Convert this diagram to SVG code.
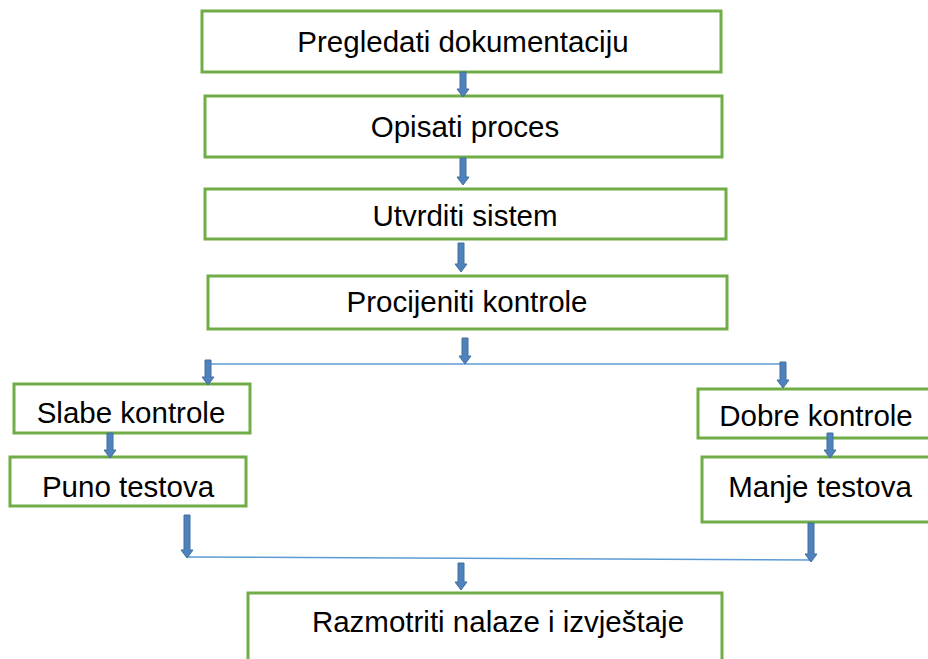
<svg xmlns="http://www.w3.org/2000/svg" width="928" height="659" viewBox="0 0 928 659">
<style>
.box{fill:#fff;stroke:#70ad47;stroke-width:3}
.t{font-family:"Liberation Sans",Arial,sans-serif;font-size:29.5px;fill:#000;text-anchor:middle}
.ar{fill:#4f81bd;stroke:#41719c;stroke-width:1}
.ln{fill:none;stroke:#5b9bd5;stroke-width:1.5}
</style>
<rect width="928" height="659" fill="#fff"/>
<g id="n1"><rect class="box" x="202" y="11" width="519" height="61"/><text class="t" x="463" y="52">Pregledati dokumentaciju</text></g>
<g id="n2"><rect class="box" x="205" y="96" width="517" height="61"/><text class="t" x="465" y="137">Opisati proces</text></g>
<g id="n3"><rect class="box" x="205" y="189" width="521" height="50"/><text class="t" x="465" y="226">Utvrditi sistem</text></g>
<g id="n4"><rect class="box" x="208" y="276" width="519" height="53"/><text class="t" x="467" y="312">Procijeniti kontrole</text></g>
<g id="n5"><rect class="box" x="14" y="384" width="236" height="49"/><text class="t" x="131" y="423">Slabe kontrole</text></g>
<g id="n6"><rect class="box" x="10" y="457" width="236" height="49"/><text class="t" x="128" y="497">Puno testova</text></g>
<g id="n7"><rect class="box" x="698" y="389" width="240" height="49"/><text class="t" x="816" y="426">Dobre kontrole</text></g>
<g id="n8"><rect class="box" x="702" y="457" width="240" height="65"/><text class="t" x="820" y="497">Manje testova</text></g>
<g id="n9"><rect class="box" x="248" y="593" width="474" height="80"/><text class="t" x="498" y="632">Razmotriti nalaze i izvještaje</text></g>
<g id="connectors">
<path class="ln" d="M208 364 H783"/>
<path class="ln" d="M187 557 L811 560"/>
<polygon class="ar" points="460,72 466,72 466,89 469,89 463,97 457,89 460,89"/>
<polygon class="ar" points="460,158 466,158 466,177 469,177 463,185 457,177 460,177"/>
<polygon class="ar" points="458,243 464,243 464,264 467,264 461,272 455,264 458,264"/>
<polygon class="ar" points="462,338 468,338 468,356 471,356 465,364 459,356 462,356"/>
<polygon class="ar" points="205,360 211,360 211,377 214,377 208,385 202,377 205,377"/>
<polygon class="ar" points="780,362 786,362 786,380 789,380 783,388 777,380 780,380"/>
<polygon class="ar" points="107,433 113,433 113,450 116,450 110,458 104,450 107,450"/>
<polygon class="ar" points="827,433 833,433 833,450 836,450 830,458 824,450 827,450"/>
<polygon class="ar" points="184,515 190,515 190,550 193,550 187,558 181,550 184,550"/>
<polygon class="ar" points="808,523 814,523 814,554 817,554 811,562 805,554 808,554"/>
<polygon class="ar" points="458,563 464,563 464,582 467,582 461,590 455,582 458,582"/>
</g>
</svg>
